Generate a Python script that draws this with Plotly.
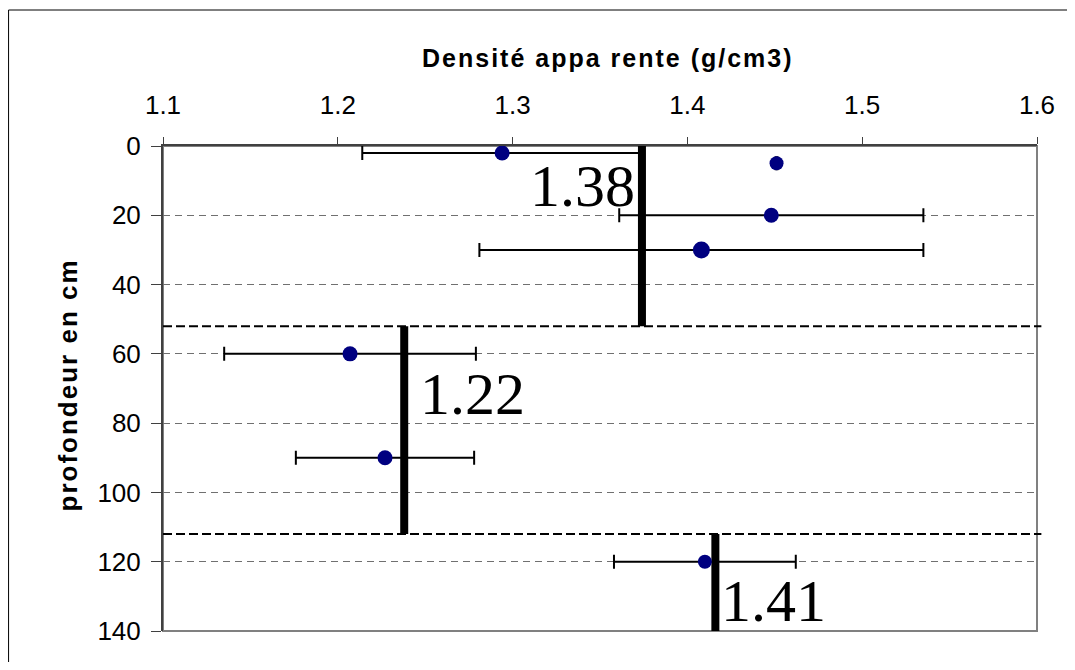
import plotly.graph_objects as go

# depth (cm) and bulk density (g/cm3) of each sample, with +/- error
depth = [2, 5, 20, 30, 60, 90, 120]
density = [1.294, 1.451, 1.448, 1.408, 1.207, 1.227, 1.410]
err = [0.080, 0.0005, 0.087, 0.127, 0.072, 0.051, 0.052]
marker_size = [15, 14, 15, 17, 15, 15, 14]

# mean density per horizon
horizon_mean = [1.374, 1.238, 1.416]
horizon_top = [0, 52, 112]
horizon_bottom = [52, 112, 140]
horizon_label = ["1.38", "1.22", "1.41"]
label_x = [1.371, 1.246, 1.418]
label_y = [11.6, 71.6, 131.2]
label_anchor = ["right", "left", "left"]

# horizon boundaries
boundaries = [52, 112]

x_ticks = [1.1, 1.2, 1.3, 1.4, 1.5, 1.6]
y_ticks = [0, 20, 40, 60, 80, 100, 120, 140]

fig = go.Figure()

for m, t, b in zip(horizon_mean, horizon_top, horizon_bottom):
    fig.add_trace(go.Scatter(
        x=[m, m], y=[t, b], mode="lines",
        line=dict(color="black", width=8),
        showlegend=False, hoverinfo="skip",
    ))

fig.add_trace(go.Scatter(
    x=density, y=depth, mode="markers",
    marker=dict(color="#000080", size=marker_size, opacity=1, line=dict(width=0)),
    error_x=dict(type="data", array=err, symmetric=True,
                 color="black", thickness=2, width=7),
    showlegend=False,
))

for bnd in boundaries:
    fig.add_shape(type="line", xref="paper", yref="y",
                  x0=0, x1=1.005, y0=bnd, y1=bnd,
                  line=dict(color="black", width=2, dash="9px,4px"))

for txt, lx, ly, anc in zip(horizon_label, label_x, label_y, label_anchor):
    fig.add_annotation(
        x=lx, y=ly, xref="x", yref="y", text=txt, showarrow=False,
        xanchor=anc, yanchor="middle",
        font=dict(family="Liberation Serif, Times New Roman, serif", size=60, color="black"),
    )

# plot border (gray) and outer frame
fig.add_shape(type="rect", xref="paper", yref="paper", x0=0, x1=1, y0=0, y1=1,
              line=dict(color="#808080", width=2), layer="below")
fig.add_shape(type="rect", xref="paper", yref="paper",
              x0=-0.1767, x1=1.1, y0=-0.2, y1=1.2804,
              line=dict(color="black", width=1))

fig.add_annotation(
    xref="paper", yref="paper", x=0.5086, y=1.181,
    text='<span style="letter-spacing:2px"><b>Densité appa rente (g/cm3)</b></span>',
    showarrow=False, xanchor="center", yanchor="middle",
    font=dict(family="Arial, Liberation Sans", size=25, color="black"),
)
fig.add_annotation(
    xref="paper", yref="paper", x=-0.1083, y=0.507,
    text='<span style="letter-spacing:2px"><b>profondeur en cm</b></span>',
    showarrow=False, textangle=-90,
    xanchor="center", yanchor="middle",
    font=dict(family="Arial, Liberation Sans", size=26, color="black"),
)

fig.update_xaxes(
    side="top", range=[1.1, 1.6], tickvals=x_ticks, tickformat=".1f",
    ticks="outside", ticklen=7, tickcolor="#404040",
    showline=True, linecolor="#404040", linewidth=2,
    showgrid=False, zeroline=False, ticklabelstandoff=13,
    tickfont=dict(family="Arial, Liberation Sans", size=26, color="black"),
)
fig.update_yaxes(
    range=[140, 0], tickvals=y_ticks,
    ticks="outside", ticklen=10, tickcolor="#404040",
    showline=True, linecolor="#404040", linewidth=2,
    showgrid=True, gridcolor="#707070", gridwidth=1, griddash="7px,5px",
    zeroline=False, ticklabelstandoff=5,
    tickfont=dict(family="Arial, Liberation Sans", size=26, color="black"),
)

# the page has an 8px body margin, so the figure is sized and offset for it
fig.update_layout(
    width=1059, height=654,
    margin=dict(l=155, r=27, t=138, b=31),
    paper_bgcolor="white", plot_bgcolor="white",
)

fig.write_html("out.html")
